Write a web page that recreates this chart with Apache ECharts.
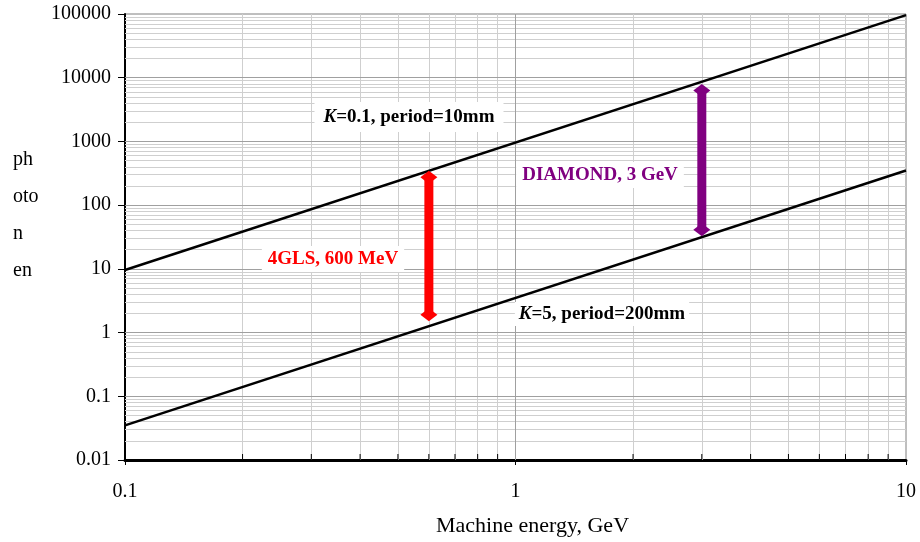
<!DOCTYPE html>
<html>
<head>
<meta charset="utf-8">
<script src="https://cdn.jsdelivr.net/npm/echarts@6/dist/echarts.min.js"></script>
<style>
html,body{margin:0;padding:0;background:#fff;}
#c{width:920px;height:542px;}
</style>
</head>
<body>
<div id="c"></div>
<script>
// ---- data ----
const xTickLabels = ['0.1', '1', '10'];
const yTickLabels = ['0.01', '0.1', '1', '10', '100', '1000', '10000', '100000'];
const upperLine = [[0.1, 9.6], [10, 96000]];      // K=0.1, period=10mm
const lowerLine = [[0.1, 0.035], [10, 350]];      // K=5, period=200mm
const arrow4GLS = [[0.6, 1.9], [0.6, 275]];
const arrowDiamond = [[3, 41], [3, 6300]];
const xDecades = [0.1, 1];
const yDecades = [0.01, 0.1, 1, 10, 100, 1000, 10000];
const minorMultipliers = [2, 3, 4, 5, 6, 7, 8, 9];
const yNameParts = ['ph', 'oto', 'n', 'en'];

const FONT = '"Liberation Serif","Times New Roman",serif';

const xMinor = [], yMinor = [];
xDecades.forEach(d => minorMultipliers.forEach(m => xMinor.push(+(d * m).toPrecision(6))));
yDecades.forEach(d => minorMultipliers.forEach(m => yMinor.push(+(d * m).toPrecision(6))));
const xMajorInner = [1];
const yMajorInner = [0.1, 1, 10, 100, 1000, 10000];

const chart = echarts.init(document.getElementById('c'));
const fmt = v => String(+(+v).toPrecision(6));

const gridLines = [];
xMinor.forEach(v => gridLines.push({xAxis: v, lineStyle: {color: '#cfcfcf', width: 1, type: 'solid'}}));
yMinor.forEach(v => gridLines.push({yAxis: v, lineStyle: {color: '#cfcfcf', width: 1, type: 'solid'}}));
xMajorInner.forEach(v => gridLines.push({xAxis: v, lineStyle: {color: '#a0a0a0', width: 1, type: 'solid'}}));
yMajorInner.forEach(v => gridLines.push({yAxis: v, lineStyle: {color: '#a0a0a0', width: 1, type: 'solid'}}));

const option = {
  animation: false,
  backgroundColor: '#fff',
  grid: {left: 125, right: 14, top: 14, bottom: 82, show: true, borderColor: '#7f7f7f', borderWidth: 1, backgroundColor: 'transparent'},
  xAxis: {
    type: 'log', logBase: 10, min: 0.1, max: 10, splitNumber: 2,
    axisLine: {show: true, onZero: false, lineStyle: {color: '#000', width: 3}},
    axisTick: {show: true, length: 5, lineStyle: {color: '#000'}},
    splitLine: {show: false},
    axisLabel: {fontFamily: FONT, fontSize: 20, color: '#000', margin: 22, formatter: fmt},
    name: 'Machine energy, GeV', nameLocation: 'middle', nameGap: 55,
    nameTextStyle: {fontFamily: FONT, fontSize: 22, color: '#000', padding: [0, 0, 0, 34]}
  },
  yAxis: {
    type: 'log', logBase: 10, min: 0.01, max: 100000, splitNumber: 7,
    axisLine: {show: true, onZero: false, lineStyle: {color: '#000', width: 2}},
    axisTick: {show: true, length: 7, lineStyle: {color: '#000'}},
    splitLine: {show: false},
    axisLabel: {fontFamily: FONT, fontSize: 20, color: '#000', margin: 14, formatter: fmt}
  },
  series: [
    {
      type: 'line', data: [], silent: true,
      markLine: {silent: true, symbol: 'none', label: {show: false}, animation: false, data: gridLines}
    },
    {
      type: 'custom', silent: true, z: 5,
      data: xMinor.map(v => [v, 0.01]),
      renderItem: function (params, api) {
        const p = api.coord([api.value(0), api.value(1)]);
        return {type: 'line', shape: {x1: p[0], y1: p[1], x2: p[0], y2: p[1] - 6}, style: {stroke: '#000', lineWidth: 1}};
      }
    },
    {type: 'line', data: upperLine, symbol: 'none', lineStyle: {color: '#000', width: 2.5}, z: 6},
    {type: 'line', data: lowerLine, symbol: 'none', lineStyle: {color: '#000', width: 2.5}, z: 6},
    {type: 'line', data: arrow4GLS, symbol: 'diamond', symbolSize: [17, 13], showSymbol: true,
      itemStyle: {color: '#ff0000'}, lineStyle: {color: '#ff0000', width: 9}, z: 7},
    {type: 'line', data: arrowDiamond, symbol: 'diamond', symbolSize: [17, 13], showSymbol: true,
      itemStyle: {color: '#800080'}, lineStyle: {color: '#800080', width: 9}, z: 7}
  ],
  graphic: [
    ...yNameParts.map((t, i) => ({
      type: 'text', left: 13, top: 150 + i * 37,
      style: {text: t, font: '20px ' + FONT, fill: '#000'}
    })),
    {
      type: 'text', x: 409, y: 117, z: 10,
      style: {
        text: '{i|K}{b|=0.1, period=10mm}', align: 'center', verticalAlign: 'middle',
        backgroundColor: '#fff', padding: [6, 9, 5, 9],
        rich: {
          i: {font: 'italic bold 19px ' + FONT, fill: '#000'},
          b: {font: 'bold 19px ' + FONT, fill: '#000'}
        }
      }
    },
    {
      type: 'text', x: 602, y: 314, z: 10,
      style: {
        text: '{i|K}{b|=5, period=200mm}', align: 'center', verticalAlign: 'middle',
        backgroundColor: '#fff', padding: [3, 4, 2, 4],
        rich: {
          i: {font: 'italic bold 19px ' + FONT, fill: '#000'},
          b: {font: 'bold 19px ' + FONT, fill: '#000'}
        }
      }
    },
    {
      type: 'text', x: 333, y: 259, z: 10,
      style: {
        text: '4GLS, 600 MeV', align: 'center', verticalAlign: 'middle',
        font: 'bold 19px ' + FONT, fill: '#ff0000',
        backgroundColor: '#fff', padding: [4, 6, 3, 6]
      }
    },
    {
      type: 'text', x: 600, y: 175, z: 10,
      style: {
        text: 'DIAMOND, 3 GeV', align: 'center', verticalAlign: 'middle',
        font: 'bold 19px ' + FONT, fill: '#800080',
        backgroundColor: '#fff', padding: [4, 6, 3, 6]
      }
    }
  ]
};
chart.setOption(option);
</script>
</body>
</html>
